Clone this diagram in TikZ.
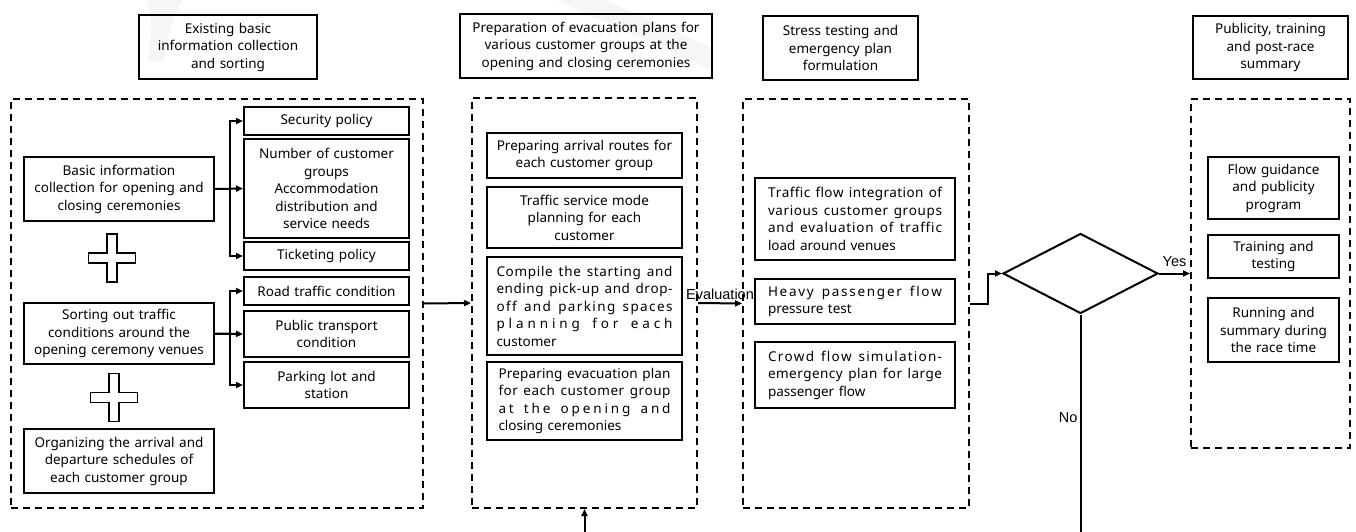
\documentclass[tikz,border=0pt]{standalone}
\usepackage{fontspec}
\setmainfont{Noto Sans}
\newfontfamily\labelfont{Liberation Sans}
\usetikzlibrary{shapes.geometric,arrows.meta}
\newcommand\bxfont{\fontsize{13.5}{17.5}\selectfont}
\ExplSyntaxOn
\NewDocumentCommand\spreadline{m}{
  \leavevmode
  \hbox_to_wd:nn {\linewidth}
   { \str_map_inline:nn {#1}
      { \str_if_eq:nnTF {##1} {~} { \c_space_tl \hfil } { ##1 \hfil } }
     \unskip }
}
\ExplSyntaxOff
\begin{document}
\begin{tikzpicture}[x=1pt,y=-1pt,
  bx/.style={draw, line width=2pt, inner sep=0pt, align=center, font=\bxfont},
  lbx/.style={bx, align=left},
  cont/.style={draw, line width=2pt, dash pattern=on 7pt off 5pt, inner sep=0pt},
  arr/.style={line width=2pt, -{Triangle[length=7pt,width=6pt]}},
  lbl/.style={font=\labelfont\fontsize{14.5}{16}\selectfont, inner sep=1pt},
  crossmark/.pic={\draw[line width=1.5pt] (-5,-24) -- (5,-24) -- (5,-5) -- (23.5,-5) -- (23.5,5) -- (5,5) -- (5,24) -- (-5,24) -- (-5,5) -- (-23.5,5) -- (-23.5,-5) -- (-5,-5) -- cycle;}
]
\useasboundingbox (0,0) rectangle (1356,532);
\fill[white] (0,0) rectangle (1356,532);
\clip (0,0) rectangle (1356,532);
% faint watermark
\fill[gray!7] (146,0) -- (182,0) .. controls (172,20) and (166,40) .. (164,62) -- (148,62) .. controls (150,40) and (154,20) .. (146,0) -- cycle;
\fill[gray!7] (556,0) -- (606,0) -- (712,48) -- (712,70) -- cycle;

% title boxes
\node[bx, text width=164pt, minimum width=178pt, minimum height=64pt] (t1) at (228,47) {Existing basic\\information collection\\and sorting};
\node[bx, text width=240pt, minimum width=252pt, minimum height=64pt] (t2) at (586,46) {Preparation of evacuation plans for\\various customer groups at the\\opening and closing ceremonies};
\node[bx, text width=145pt, minimum width=155pt, minimum height=64pt] (t3) at (840.5,48) {Stress testing and\\emergency plan\\formulation};
\node[bx, text width=145pt, minimum width=155pt, minimum height=63pt] (t4) at (1270.5,47.5) {Publicity, training\\and post-race\\summary};

% containers
\node[cont, minimum width=412pt, minimum height=409pt] (c1) at (217,303.5) {};
\node[cont, minimum width=225pt, minimum height=410pt] (c2) at (584.5,303) {};
\node[cont, minimum width=226pt, minimum height=409pt] (c3) at (856,303.5) {};
\node[cont, minimum width=159pt, minimum height=349pt] (c4) at (1270.5,273.5) {};

% container 1
\node[bx, text width=180pt, minimum width=190pt, minimum height=64pt] (a) at (119,189) {Basic information\\collection for opening and\\closing ceremonies};
\node[bx, text width=180pt, minimum width=190pt, minimum height=61pt] (b) at (119,333.5) {Sorting out traffic\\conditions around the\\opening ceremony venues};
\node[bx, text width=180pt, minimum width=190pt, minimum height=64pt] (c) at (119,461) {Organizing the arrival and\\departure schedules of\\each customer group};
\pic at (112,258) {crossmark};
\pic at (114,397.5) {crossmark};
\node[bx, text width=155pt, minimum width=165pt, minimum height=28pt] (s1) at (326.5,121) {Security policy};
\node[bx, text width=155pt, minimum width=165pt, minimum height=99pt] (s2) at (326.5,188.5) {Number of customer\\groups\\Accommodation\\distribution and\\service needs};
\node[bx, text width=155pt, minimum width=165pt, minimum height=28pt] (s3) at (326.5,256) {Ticketing policy};
\node[bx, text width=155pt, minimum width=165pt, minimum height=28pt] (s4) at (326.5,291) {Road traffic condition};
\node[bx, text width=155pt, minimum width=165pt, minimum height=46pt] (s5) at (326.5,334) {Public transport\\condition};
\node[bx, text width=155pt, minimum width=165pt, minimum height=46pt] (s6) at (326.5,385) {Parking lot and\\station};
\draw[arr] (a.east) -- ++(15,0) |- (s1.west);
\draw[arr] (a.east) -- (s2.west);
\draw[arr] (a.east) -- ++(15,0) |- (s3.west);
\draw[arr] (b.east) -- ++(15,0) |- (s4.west);
\draw[arr] (b.east) -- (s5.west);
\draw[arr] (b.east) -- ++(15,0) |- (s6.west);

% container 2
\node[bx, text width=180pt, minimum width=195pt, minimum height=45pt] (p1) at (584.5,155.5) {Preparing arrival routes for\\each customer group};
\node[bx, text width=180pt, minimum width=195pt, minimum height=61pt] (p2) at (584.5,217.5) {Traffic service mode\\planning for each\\customer};
\node[lbx, text width=176pt, minimum width=195pt, minimum height=98pt] (p3) at (584.5,306) {\spreadline{Compile the starting and}\\\spreadline{ending pick-up and drop-}\\\spreadline{off and parking spaces}\\\spreadline{planning for each}\\customer};
\node[lbx, text width=172pt, minimum width=195pt, minimum height=78pt] (p4) at (584.5,401) {\spreadline{Preparing evacuation plan}\\\spreadline{for each customer group}\\\spreadline{at the opening and}\\closing ceremonies};

% container 3
\node[lbx, text width=174pt, minimum width=200pt, minimum height=82pt] (q1) at (855,219) {\spreadline{Traffic flow integration of}\\\spreadline{various customer groups}\\\spreadline{and evaluation of traffic}\\load around venues};
\node[lbx, text width=174pt, minimum width=200pt, minimum height=45pt] (q2) at (855,301.5) {\spreadline{Heavy passenger flow}\\pressure test};
\node[lbx, text width=174pt, minimum width=200pt, minimum height=66pt] (q3) at (855,375) {\spreadline{Crowd flow simulation-}\\\spreadline{emergency plan for large}\\passenger flow};

% container 4
\node[bx, text width=125pt, minimum width=131pt, minimum height=62pt] (r1) at (1273.5,188) {Flow guidance\\and publicity\\program};
\node[bx, text width=125pt, minimum width=131pt, minimum height=43pt] (r2) at (1273.5,256.5) {Training and\\testing};
\node[bx, text width=125pt, minimum width=131pt, minimum height=64pt] (r3) at (1273.5,330) {Running and\\summary during\\the race time};

% decision
\node[draw, diamond, line width=2pt, minimum width=155pt, minimum height=80pt, inner sep=0pt] (d) at (1080.5,273.5) {};

% connectors
\draw[arr] (c1.east) -- (c2.west);
\draw[arr] (c2.east) -- node[lbl, midway, above=2pt] {Evaluation} (c3.west);
\draw[arr] (c3.east) -- ++(18,0) |- (d.west);
\draw[arr] (d.east) -- node[lbl, midway, above=5pt] {Yes} (c4.west);
\draw[arr] (d.south) -- node[lbl, pos=0.42, left=1pt] {No} (1080.5,560) -| (c2.south);
\end{tikzpicture}
\end{document}
